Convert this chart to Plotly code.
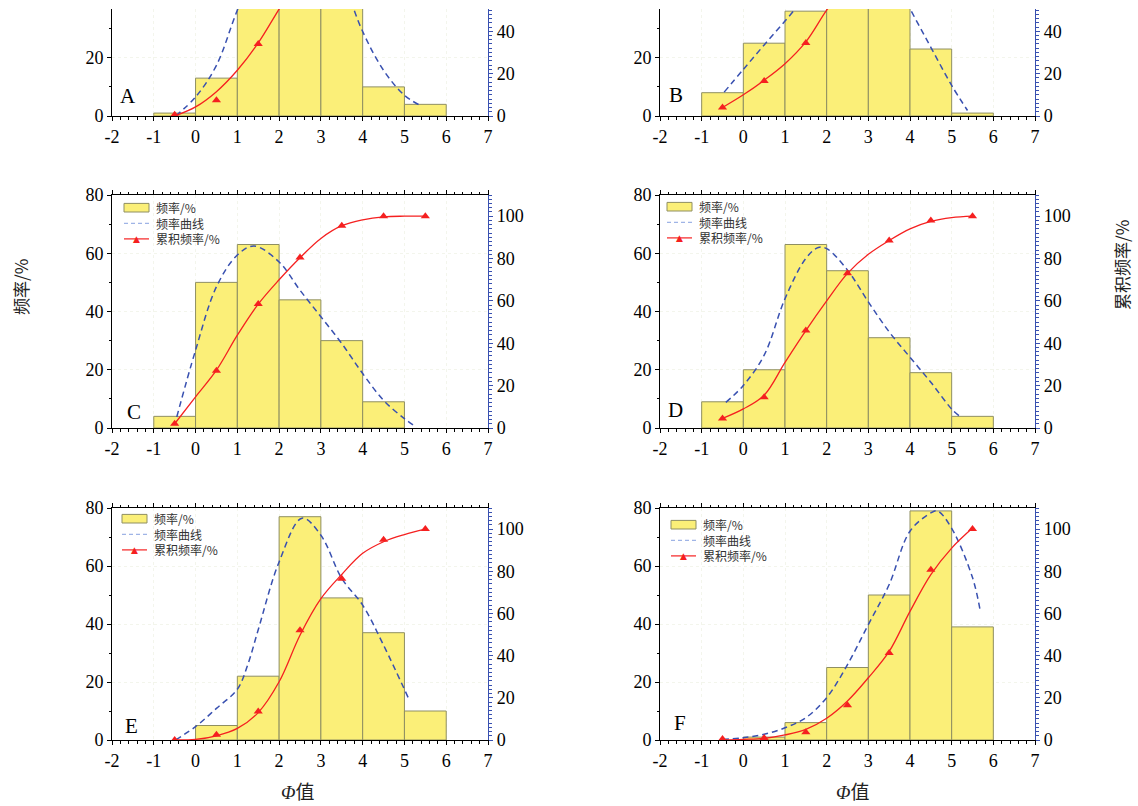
import plotly.graph_objects as go

# ---------------- data ----------------
panel_names = ["A", "B", "C", "D", "E", "F"]
bin_centers = [-0.5, 0.5, 1.5, 2.5, 3.5, 4.5, 5.5]   # bins [-1,0] ... [5,6]
x_tick_vals = [-2, -1, 0, 1, 2, 3, 4, 5, 6, 7]
x_tick_labels = ["-2", "-1", "0", "1", "2", "3", "4", "5", "6", "7"]

# frequency (%) per bin (left axis)
freq_A = [1, 13, 54, 62, 56, 10, 4]
freq_B = [8, 25, 36, 55, 52, 23, 1]
freq_C = [4, 50, 63, 44, 30, 9, None]
freq_D = [9, 20, 63, 54, 31, 19, 4]
freq_E = [None, 5, 22, 77, 49, 37, 10]
freq_F = [None, 1, 6, 25, 50, 79, 39]

# cumulative frequency (%) at bin centres (right axis, triangles)
cum_A = [0.6, 7.4, 34, 65, 93, 98, 100]
cum_B = [4, 16.5, 34.5, 62, 88, 99.5, 100]
cum_C = [2, 27, 58.5, 80.5, 95.5, 100, 100]
cum_D = [4.5, 14.5, 46, 73, 88.5, 98, 100]
cum_E = [0, 2.5, 13.5, 52, 76.5, 95, 100]
cum_F = [0.5, 1, 3.7, 16.5, 41.3, 80.7, 100]

# fitted cumulative curve (red line)
cumfit_x = [-0.5, 0, 0.5, 1, 1.5, 2, 2.5, 3, 3.5, 4, 4.5, 5, 5.5]
cumfit_A = [0, 4.3, 11.5, 21.6, 34.5, 50.5, 66, 80, 91, 96, 98.5, 99.5, 100]
cumfit_B = [4, 10, 16.9, 24.7, 35, 50, 63, 76, 87, 94, 98, 99.5, 100]
cumfit_C = [2, 14.7, 27.3, 43.8, 58.5, 70, 80.4, 89.5, 95.5, 98.3, 99.7, 100, 100]
cumfit_D = [4.5, 9, 15.5, 31, 46, 60, 73, 82, 88.5, 94, 97.5, 99.3, 100]
cumfit_E = [0, 0.3, 2, 5.5, 13, 27.6, 49.7, 67, 78.5, 88.5, 94, 97.4, 100]
cumfit_F = [0, 0.3, 0.8, 2.4, 5, 10.3, 18.5, 29.5, 42, 61, 78.4, 91, 100.5]

# frequency curve (blue dashed)
curve_A_x = [-0.48, 0, 0.5, 1.0, 1.5, 2.0, 2.5, 3.0, 3.5, 4.0, 4.5, 5.0, 5.37]
curve_A_y = [0, 6.5, 17.4, 36.3, 52, 61, 63, 59, 47, 29, 15.7, 7.1, 3.7]
curve_B_x = [-0.46, 0, 0.5, 1.0, 1.5, 2.0, 2.5, 3.0, 3.5, 4.0, 4.5, 5.0, 5.38]
curve_B_y = [8.2, 16, 24.4, 32.6, 41, 49, 55, 56, 50, 36.8, 23.6, 10.5, 1.9]
curve_C_x = [-0.45, 0, 0.5, 1.0, 1.4, 2.0, 2.5, 3.0, 3.5, 4.0, 4.5, 5.0, 5.29]
curve_C_y = [3.8, 26.7, 48.5, 59.4, 62.5, 57, 47.3, 38.2, 29, 18.7, 9.5, 3.2, 0.3]
curve_D_x = [-0.42, 0, 0.5, 1.0, 1.5, 1.8, 2.0, 2.5, 3.0, 3.5, 4.0, 4.5, 5.0, 5.18]
curve_D_y = [8.8, 14.6, 25, 44.4, 58.2, 62, 61.6, 54.2, 43.3, 33, 24.3, 15.7, 6.5, 4.2]
curve_E_x = [-0.48, 0, 0.5, 1.0, 1.25, 1.5, 2.0, 2.55, 3.0, 3.5, 4.0, 4.5, 5.1]
curve_E_y = [0, 4.6, 10.9, 17.5, 26, 38, 61.4, 76.5, 70.6, 55.7, 46.5, 32.7, 14.3]
curve_F_x = [-0.5, 0, 0.5, 1.0, 1.5, 2.0, 2.5, 3.0, 3.5, 4.0, 4.5, 4.66, 5.0, 5.5, 5.68]
curve_F_y = [0.2, 0.8, 2, 4.2, 7.7, 14.6, 26, 39.8, 53.6, 72, 78.3, 79, 73, 56, 45]

legend_labels = ["频率/%", "频率曲线", "累积频率/%"]
left_title = "频率/%"
right_title = "累积频率/%"
x_title = "<i>Φ</i>值"

freqs = [freq_A, freq_B, freq_C, freq_D, freq_E, freq_F]
cums = [cum_A, cum_B, cum_C, cum_D, cum_E, cum_F]
cumfits = [cumfit_A, cumfit_B, cumfit_C, cumfit_D, cumfit_E, cumfit_F]
curves = [(curve_A_x, curve_A_y), (curve_B_x, curve_B_y), (curve_C_x, curve_C_y),
          (curve_D_x, curve_D_y), (curve_E_x, curve_E_y), (curve_F_x, curve_F_y)]

# ---------------- style / layout ----------------
W, H = 1138, 806
BAR_FILL = "#fbef78"
BAR_LINE = "#8f8f62"
BLUE = "#3850b0"
RED = "#f52020"
GRID = "#f3f5ec"
TICK_FONT = dict(family="Liberation Serif, Times New Roman, serif", size=18, color="black")
CJK = "Noto Sans CJK SC"
LEG_FONT = 12
LEG_STEP = 1.3 * LEG_FONT   # line spacing of a multi-line annotation

col_dom = [[112 / W, 488 / W], [660 / W, 1035 / W]]
row_dom = [[(H - 116) / H, (H - 9) / H],
           [(H - 428) / H, (H - 195) / H],
           [(H - 740) / H, (H - 508) / H]]
# visible top of left axis; right axis spans 110/80 of that
left_top = [36.74, 36.74, 80, 80, 80, 80]

# panel letter offsets (px from left, px above bottom)
letter_pos = [(16, 20), (16, 21), (22, 16), (15, 18), (19, 14), (20, 17)]
# legend box top-left offsets (px from plot top-left), None -> no legend
legend_pos = [None, None, (12, 8), (7, 7), (10, 6), (11, 12)]

fig = go.Figure()
shapes, annotations = [], []

for i in range(6):
    r, c = i // 2, i % 2
    xd, yd = col_dom[c], row_dom[r]
    sfx = "" if i == 0 else str(i + 1)
    xa, ya, yr = f"x{sfx}", f"y{sfx}", f"y{i+7}"

    fig.add_trace(go.Bar(x=bin_centers, y=freqs[i], width=1, xaxis=xa, yaxis=ya,
                         marker=dict(color=BAR_FILL, line=dict(color=BAR_LINE, width=1)),
                         showlegend=False, name=legend_labels[0]))
    cx, cy = curves[i]
    fig.add_trace(go.Scatter(x=cx, y=cy, mode="lines", xaxis=xa, yaxis=ya,
                             line=dict(color=BLUE, width=1.5, dash="6px,4px", shape="spline"),
                             showlegend=False, name=legend_labels[1]))
    fig.add_trace(go.Scatter(x=cumfit_x, y=cumfits[i], mode="lines", xaxis=xa, yaxis=yr,
                             line=dict(color=RED, width=1.3, shape="spline"),
                             showlegend=False, name=legend_labels[2]))
    fig.add_trace(go.Scatter(x=bin_centers, y=cums[i], mode="markers", xaxis=xa, yaxis=yr,
                             marker=dict(symbol="triangle-up", color=RED, size=8),
                             showlegend=False, name=legend_labels[2]))

    boxed = left_top[i] >= 80
    fig.update_layout(**{
        f"xaxis{sfx}": dict(domain=xd, range=[-2, 7], anchor=ya, tickmode="array",
                            tickvals=x_tick_vals, ticktext=x_tick_labels,
                            ticks="outside", ticklen=4, tickcolor="black",
                            minor=dict(tickmode="linear", tick0=-2, dtick=0.2, ticks="outside",
                                       ticklen=2.5, tickcolor="black", showgrid=False),
                            showline=True, linecolor="black", linewidth=1,
                            mirror="ticks" if boxed else False, automargin=False,
                            showgrid=True, gridcolor=GRID, griddash="dot",
                            zeroline=False, tickfont=TICK_FONT, fixedrange=True),
        f"yaxis{sfx}": dict(domain=yd, range=[0, left_top[i]], anchor=xa, dtick=20, tick0=0,
                            ticks="outside", ticklen=4, tickcolor="black",
                            minor=dict(dtick=10, ticks="outside", ticklen=2.5,
                                       tickcolor="black", showgrid=False),
                            showline=True, linecolor="black", linewidth=1, automargin=False,
                            showgrid=True, gridcolor=GRID, griddash="dot",
                            zeroline=False, tickfont=TICK_FONT, fixedrange=True),
        f"yaxis{i+7}": dict(overlaying=ya, side="right", anchor=xa,
                            range=[0, left_top[i] * 110 / 80], dtick=20, tick0=0,
                            ticks="outside", ticklen=4, tickcolor=BLUE,
                            minor=dict(dtick=2, ticks="outside", ticklen=2.5, tickcolor=BLUE),
                            showline=True, linecolor=BLUE, linewidth=1.2, automargin=False,
                            showgrid=False, zeroline=False, tickfont=TICK_FONT,
                            fixedrange=True),
    })

    dw = (xd[1] - xd[0]) * W
    dh = (yd[1] - yd[0]) * H
    xref, yref = f"{xa} domain", f"{ya} domain"

    lx, ly = letter_pos[i]
    annotations.append(dict(text=panel_names[i], x=lx / dw, y=ly / dh, xref=xref, yref=yref,
                            showarrow=False, xanchor="center", yanchor="middle",
                            font=dict(family="Liberation Serif, serif", size=21, color="black")))

    if legend_pos[i] is not None:
        ox, oy = legend_pos[i]
        fx = lambda px: px / dw
        fy = lambda py: 1 - py / dh
        row0 = oy + 4.7
        rows = [row0, row0 + LEG_STEP, row0 + 2 * LEG_STEP]
        shapes.append(dict(type="rect", xref=xref, yref=yref, x0=fx(ox), x1=fx(ox + 25),
                           y0=fy(row0 + 4.3), y1=fy(row0 - 4.3), fillcolor=BAR_FILL,
                           line=dict(color=BAR_LINE, width=1)))
        shapes.append(dict(type="line", xref=xref, yref=yref, x0=fx(ox), x1=fx(ox + 25),
                           y0=fy(rows[1]), y1=fy(rows[1]),
                           line=dict(color="#9fb4e6", width=1.3, dash="4px,3px")))
        shapes.append(dict(type="line", xref=xref, yref=yref, x0=fx(ox), x1=fx(ox + 25),
                           y0=fy(rows[2]), y1=fy(rows[2]),
                           line=dict(color=RED, width=1.2)))
        annotations.append(dict(text="▲", x=fx(ox + 12.5), y=fy(rows[2]),
                                xref=xref, yref=yref, showarrow=False,
                                xanchor="center", yanchor="middle",
                                font=dict(family="DejaVu Sans", size=9, color=RED)))
        annotations.append(dict(text="<br>".join(legend_labels), x=fx(ox + 30), y=fy(rows[1]),
                                xref=xref, yref=yref, showarrow=False, align="left",
                                xanchor="left", yanchor="middle",
                                font=dict(family=CJK, size=LEG_FONT, color="#333333")))

# axis titles
annotations.append(dict(text=left_title, x=20 / W, y=1 - 287 / H, xref="paper", yref="paper",
                        showarrow=False, textangle=-90, xanchor="center", yanchor="middle",
                        font=dict(family=CJK, size=17, color="#222222")))
annotations.append(dict(text=right_title, x=1121 / W, y=1 - 265 / H, xref="paper", yref="paper",
                        showarrow=False, textangle=-90, xanchor="center", yanchor="middle",
                        font=dict(family=CJK, size=17, color="#222222")))
for xc in (297, 852):
    annotations.append(dict(text=x_title, x=xc / W, y=1 - 792 / H, xref="paper", yref="paper",
                            showarrow=False, xanchor="center", yanchor="middle",
                            font=dict(family="Liberation Serif, " + CJK, size=19,
                                      color="#222222")))

fig.update_layout(width=W, height=H, margin=dict(l=0, r=0, t=0, b=0, pad=0, autoexpand=False),
                  paper_bgcolor="white", plot_bgcolor="white", showlegend=False,
                  barmode="overlay", shapes=shapes, annotations=annotations)

fig.write_html("out.html", config={"displayModeBar": False})
